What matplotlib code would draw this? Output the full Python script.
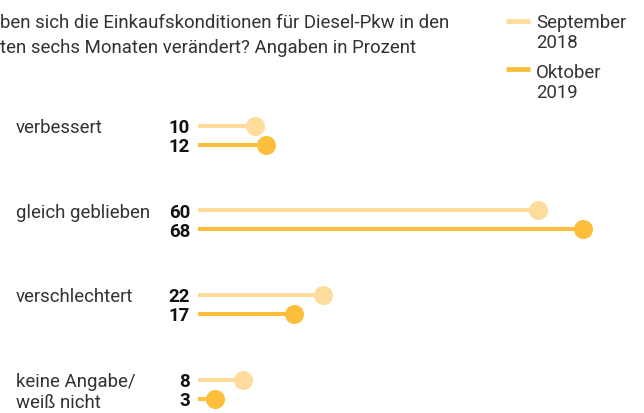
import matplotlib.pyplot as plt

categories = ['verbessert', 'gleich geblieben', 'verschlechtert', 'keine Angabe/\nweiß nicht']
sep_2018 = [10, 60, 22, 8]
okt_2019 = [12, 68, 17, 3]
series_labels = ['September\n2018', 'Oktober\n2019']

light = '#fedc9c'
dark = '#fdbe3c'
W, H = 644, 414

plt.rcParams['font.family'] = ['Roboto', 'DejaVu Sans']

fig = plt.figure(figsize=(W / 100, H / 100), dpi=100)
fig.patch.set_facecolor('white')

# axes for the dumbbells: x=0 sits at pixel 198, 5.66 px per percent
x0 = 198
ppu = 5.66
ax = fig.add_axes([x0 / W, 0, (W - x0) / W, 1])
ax.set_xlim(0, (W - x0) / ppu)
ax.set_ylim(H, 0)
ax.axis('off')

fs = 13.4
row0 = 126.5
step = 84.7
gap = 19
for i, cat in enumerate(categories):
    ya = row0 + i * step
    yb = ya + gap
    for y, v, c in [(ya, sep_2018[i], light), (yb, okt_2019[i], dark)]:
        ax.plot([0, v], [y, y], color=c, lw=2.9, solid_capstyle='butt', zorder=1)
        ax.plot([v], [y], 'o', color=c, ms=13.7, mec='none', zorder=2)
        fig.text(190 / W, 1 - (y + 6.5) / H, str(v), ha='right', va='baseline',
                 fontsize=fs, fontweight='bold', color='#111111')
    for j, ln in enumerate(cat.split('\n')):
        fig.text(16 / W, 1 - (ya + 6.5 + j * 21) / H, ln, ha='left', va='baseline',
                 fontsize=fs, color='#333333')

# title (cut at the left edge as in the source)
fig.text(0, 1 - 28 / H, 'ben sich die Einkaufskonditionen für Diesel-Pkw in den',
         ha='left', va='baseline', fontsize=fs, color='#333333')
fig.text(0, 1 - 53 / H, 'ten sechs Monaten verändert? Angaben in Prozent',
         ha='left', va='baseline', fontsize=fs, color='#333333')

# legend
for k, (lab, c) in enumerate(zip(series_labels, [light, dark])):
    ly = 22 + k * 48
    fig.add_artist(plt.Line2D([506 / W, 530 / W], [1 - ly / H, 1 - ly / H],
                              color=c, lw=3.5, solid_capstyle='butt'))
    for j, part in enumerate(lab.split('\n')):
        fig.text(536 / W, 1 - (28 + k * 50 + j * 20) / H, part, ha='left',
                 va='baseline', fontsize=fs, color='#333333')

fig.savefig('out.png', dpi=100)
